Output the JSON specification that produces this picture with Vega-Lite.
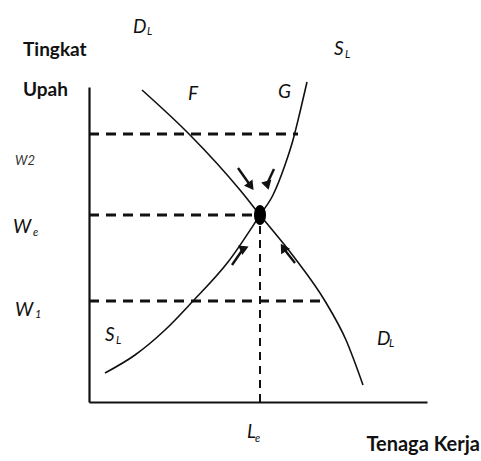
{
  "$schema": "https://vega.github.io/schema/vega-lite/v6.json",
  "width": 338,
  "height": 315,
  "autosize": {"type": "none"},
  "padding": {"left": 89, "top": 87, "right": 54, "bottom": 59},
  "background": "white",
  "config": {
    "view": {"stroke": null},
    "axis": {"labels": false, "ticks": false, "grid": false, "title": null, "domainColor": "#111111", "domainWidth": 2.2},
    "text": {"font": "Lato", "color": "#111111", "baseline": "alphabetic", "align": "left"}
  },
  "datasets": {
    "demand": [
      {"x": 53, "y": 312}, {"x": 101, "y": 267}, {"x": 151, "y": 212}, {"x": 171, "y": 187},
      {"x": 205, "y": 145}, {"x": 236, "y": 101}, {"x": 257, "y": 62}, {"x": 274, "y": 17}
    ],
    "supply": [
      {"x": 16, "y": 29}, {"x": 46, "y": 47}, {"x": 76, "y": 72}, {"x": 104, "y": 101},
      {"x": 139, "y": 140}, {"x": 171, "y": 187}, {"x": 184, "y": 207}, {"x": 196, "y": 237},
      {"x": 204, "y": 262}, {"x": 211, "y": 290}, {"x": 218, "y": 320}
    ],
    "hdash": [
      {"name": "w2", "x": 0, "x2": 209, "y": 268, "y2": 268},
      {"name": "we", "x": 0, "x2": 167, "y": 187, "y2": 187},
      {"name": "w1", "x": 0, "x2": 236, "y": 101, "y2": 101}
    ],
    "vdash": [
      {"name": "Le", "x": 171, "x2": 171, "y": 0, "y2": 187}
    ],
    "eq": [{"x": 171, "y": 187}],
    "arrows": [
      {"dir": "UL", "x2": 149, "y2": 234, "x": 161, "y": 217},
      {"dir": "UR", "x2": 185, "y2": 233, "x": 178, "y": 218},
      {"dir": "LL", "x2": 143, "y2": 137, "x": 154, "y": 153},
      {"dir": "LR", "x2": 206, "y2": 139, "x": 195, "y": 153}
    ],
    "labels": [
      {"role": "title", "text": "Tingkat", "x": -66, "y": 346},
      {"role": "title", "text": "Upah", "x": -66, "y": 306},
      {"role": "xtitle", "text": "Tenaga Kerja", "x": 391, "y": -49},
      {"role": "letter", "text": "D", "x": 44, "y": 369},
      {"role": "sub", "text": "L", "x": 58, "y": 367},
      {"role": "letter", "text": "F", "x": 99, "y": 302},
      {"role": "letter", "text": "G", "x": 189, "y": 304},
      {"role": "letter", "text": "S", "x": 245, "y": 347},
      {"role": "sub", "text": "L", "x": 256, "y": 344},
      {"role": "small", "text": "W2", "x": -74, "y": 237},
      {"role": "letter", "text": "W", "x": -76, "y": 169},
      {"role": "sub", "text": "e", "x": -56, "y": 166},
      {"role": "letter", "text": "W", "x": -74, "y": 86},
      {"role": "sub", "text": "1", "x": -54, "y": 84},
      {"role": "letter", "text": "S", "x": 16, "y": 61},
      {"role": "sub", "text": "L", "x": 27, "y": 58},
      {"role": "letter", "text": "D", "x": 288, "y": 57},
      {"role": "sub", "text": "L", "x": 300, "y": 55},
      {"role": "letter", "text": "L", "x": 158, "y": -36},
      {"role": "sub", "text": "e", "x": 166, "y": -40}
    ]
  },
  "encoding": {
    "x": {"field": "x", "type": "quantitative", "scale": {"domain": [0, 338], "nice": false, "zero": false}, "axis": {"orient": "bottom"}},
    "y": {"field": "y", "type": "quantitative", "scale": {"domain": [0, 315], "nice": false, "zero": false}, "axis": {"orient": "left"}}
  },
  "layer": [
    {
      "data": {"name": "hdash"},
      "mark": {"type": "rule", "color": "#111111", "strokeWidth": 3, "strokeDash": [10, 7]},
      "encoding": {"x2": {"field": "x2"}, "y2": {"field": "y2"}}
    },
    {
      "data": {"name": "vdash"},
      "mark": {"type": "rule", "color": "#111111", "strokeWidth": 2, "strokeDash": [8, 6]},
      "encoding": {"x2": {"field": "x2"}, "y2": {"field": "y2"}}
    },
    {
      "data": {"name": "demand"},
      "mark": {"type": "line", "color": "#111111", "strokeWidth": 1.6, "interpolate": "monotone"},
      "encoding": {}
    },
    {
      "data": {"name": "supply"},
      "mark": {"type": "line", "color": "#111111", "strokeWidth": 1.6, "interpolate": "monotone"},
      "encoding": {}
    },
    {
      "data": {"name": "arrows"},
      "mark": {"type": "rule", "color": "#111111", "strokeWidth": 2.4},
      "encoding": {"x2": {"field": "x2"}, "y2": {"field": "y2"}}
    },
    {
      "data": {"name": "arrows"},
      "mark": {"type": "point", "shape": "triangle", "filled": true, "color": "#111111", "size": 110, "opacity": 1},
      "encoding": {
        "angle": {"field": "dir", "type": "nominal", "scale": {"domain": ["UL", "UR", "LL", "LR"], "range": [144, 208, 36, 321]}, "legend": null}
      }
    },
    {
      "data": {"name": "eq"},
      "mark": {"type": "point", "shape": "M0,-1A0.6,1,0,1,1,0,1A0.6,1,0,1,1,0,-1Z", "filled": true, "color": "#000000", "size": 400, "opacity": 1},
      "encoding": {}
    },
    {
      "data": {"name": "labels"},
      "transform": [{"filter": "datum.role === 'title'"}],
      "mark": {"type": "text", "fontSize": 19, "fontWeight": "bold"},
      "encoding": {"text": {"field": "text"}}
    },
    {
      "data": {"name": "labels"},
      "transform": [{"filter": "datum.role === 'xtitle'"}],
      "mark": {"type": "text", "fontSize": 20, "fontWeight": "bold", "align": "right"},
      "encoding": {"text": {"field": "text"}}
    },
    {
      "data": {"name": "labels"},
      "transform": [{"filter": "datum.role === 'letter'"}],
      "mark": {"type": "text", "fontSize": 19, "fontStyle": "italic"},
      "encoding": {"text": {"field": "text"}}
    },
    {
      "data": {"name": "labels"},
      "transform": [{"filter": "datum.role === 'sub'"}],
      "mark": {"type": "text", "fontSize": 11, "fontStyle": "italic"},
      "encoding": {"text": {"field": "text"}}
    },
    {
      "data": {"name": "labels"},
      "transform": [{"filter": "datum.role === 'small'"}],
      "mark": {"type": "text", "fontSize": 13, "fontStyle": "italic", "color": "#333333"},
      "encoding": {"text": {"field": "text"}}
    }
  ]
}
